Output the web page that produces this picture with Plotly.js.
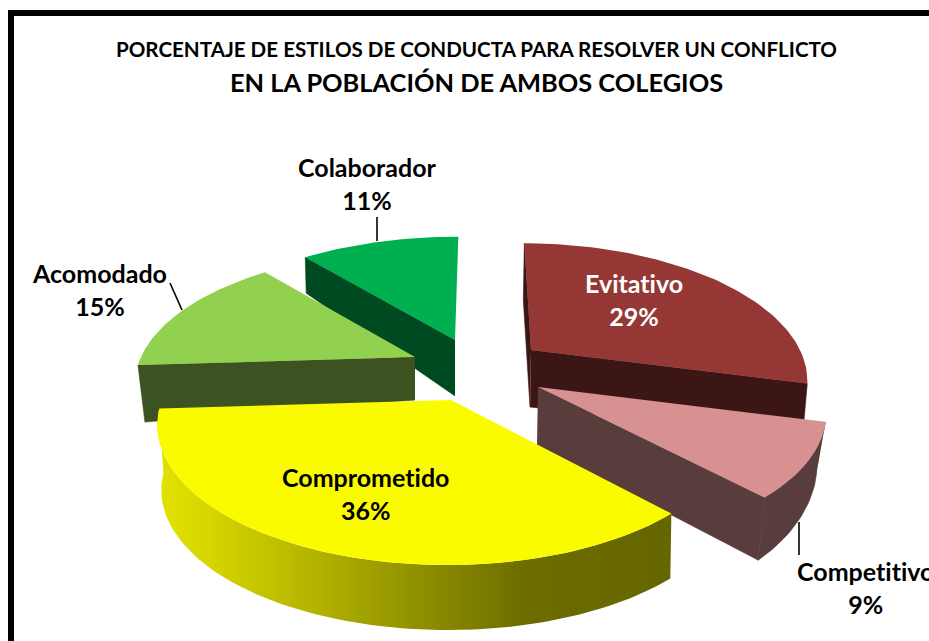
<!DOCTYPE html>
<html><head><meta charset="utf-8">
<script src="https://cdn.plot.ly/plotly-3.0.1.min.js"></script>
<style>html,body{margin:0;padding:0;background:#fff;overflow:hidden}
text{font-variant-ligatures:none;font-feature-settings:"liga" 0}</style>
</head><body><div id="chart" style="width:929px;height:641px"></div>
<script>
// Data
const categories = ["Evitativo","Competitivo","Comprometido","Acomodado","Colaborador"];
const percentages = [29,9,36,15,11];
const titleLine1 = "PORCENTAJE DE ESTILOS DE CONDUCTA PARA RESOLVER UN CONFLICTO";
const titleLine2 = "EN LA POBLACIÓN DE AMBOS COLEGIOS";

// Appearance
const topColors  = ["#953735","#d69190","#fbfb00","#92d050","#00b050"];
const wallColors = ["#3b1615","#593c3c","#666600","#3d5221","#004a22"];
const labelColors = ["#ffffff","#000000","#000000","#000000","#000000"];
const labelX = [634,865,365,99,367];
const labelY = [299.5,587.5,493,289.5,183.5];
// Perspective of each exploded slice on the pixel-sized axes
const views = [
 {ax:531,ay:350,ox:0,rx:269,ry:128,p:.20,k:-8, hA:57,hB:57,hF:53,dA:-1,dC:-1,dX:-4, draw:"start end"},
 {ax:538,ay:387,ox:0,rx:283,ry:135,p:.15,k:-11,hA:58,hB:16,hF:70,dA:-1,dC:0, dX:-9, draw:"end rim"},
 {ax:447,ay:400,ox:4,rx:285,ry:135.5,p:.179,k:0,hA:60,hB:64,hF:65,dA:0, dC:1, dX:-3, draw:"rim"},
 {ax:415,ay:357,ox:0,rx:274,ry:127,p:.20,k:2,  hA:43,hB:57,hF:57,dA:0, dC:0, dX:-7, draw:"start"},
 {ax:455,ay:340,ox:0,rx:276,ry:124,p:.20,k:4,  hA:56,hB:36,hF:36,dA:0, dC:1, dX:0,  draw:"start"}
];
const drawOrder = [0,4,3,1,2];

const total = percentages.reduce((a,b)=>a+b,0);
function topPoint(v,t,r){
  const X=r*Math.sin(t),Y=r*Math.cos(t),s=1/(1+v.p*Y);
  return [v.ax+(r===0?v.ox:0)+(v.rx*X+v.k*Y)*s, v.ay-v.ry*Y*s];
}
function lowPoint(v,t,r){
  const p=topPoint(v,t,r),X=Math.sin(t),Y=Math.cos(t);
  const rimH=v.hF+(Y+1)/2*(v.hB-v.hF), rimD=v.dC+v.dX*X;
  return [p[0]+v.dA*(1-r)+rimD*r, p[1]+v.hA*(1-r)+rimH*r];
}
function poly(pts,color,name,grad,lw){
  const tr={type:"scatter",mode:"lines",x:pts.map(p=>p[0]),y:pts.map(p=>p[1]),
    fill:"toself",fillcolor:color,line:{width:lw||0,color:color},name:name,hoverinfo:"name",showlegend:false};
  if(grad) tr.fillgradient=grad;
  return tr;
}
function arc(a,b){const out=[],n=Math.max(8,Math.round(Math.abs(b-a)*40));
  for(let i=0;i<=n;i++)out.push(a+(b-a)*i/n);return out;}

const bounds=[];let acc=0;
percentages.forEach(p=>{bounds.push([acc/total*2*Math.PI,(acc+p)/total*2*Math.PI]);acc+=p;});

const rimGradient={type:"horizontal",colorscale:[[0,"#e2e200"],[.1,"#d6d600"],[.3,"#b4b400"],[.5,"#919100"],[.72,"#6c6c00"],[1,"#666600"]]};
const traces=[];
drawOrder.forEach(i=>{
  const v=views[i],[a,b]=bounds[i],name=categories[i];
  const cut=t=>[topPoint(v,t,0),topPoint(v,t,1),lowPoint(v,t,1),lowPoint(v,t,0)];
  if(v.draw.includes("start")) traces.push(poly(cut(a),wallColors[i],name,null,0.6));
  if(v.draw.includes("end")) traces.push(poly(cut(b),wallColors[i],name,null,0.6));
  if(v.draw.includes("rim")){
    const ts=arc(a,b);
    traces.push(poly(ts.map(t=>topPoint(v,t,1)).concat(ts.slice().reverse().map(t=>lowPoint(v,t,1))),
      wallColors[i],name,i===2?rimGradient:null,i===2?0:0.6));
  }
  traces.push(poly([topPoint(v,a,0)].concat(arc(a,b).map(t=>topPoint(v,t,1))),topColors[i],name));
});

const annotations=categories.map((c,i)=>({xref:"x",yref:"y",x:labelX[i],y:labelY[i],showarrow:false,
  text:"<b>"+c+"<br>"+percentages[i]+"%</b>",align:"center",xanchor:"center",yanchor:"middle",
  font:{family:"Lato, Carlito, sans-serif",size:25,color:labelColors[i]}}));

const lineStyle={color:"#000",width:1.6};
const layout={
  width:929,height:641,margin:{l:0,r:0,t:0,b:0},paper_bgcolor:"#fff",plot_bgcolor:"#fff",showlegend:false,
  title:{text:'<b><span style="font-size:20.6px">'+titleLine1+'</span><br><span style="font-size:25.4px">'+titleLine2+'</span></b>',
    font:{family:"Lato, sans-serif",size:27,color:"#000"},x:476.5/929,xanchor:"center",y:1-57/641,yanchor:"top"},
  xaxis:{visible:false,range:[0,929],fixedrange:true},
  yaxis:{visible:false,range:[641,0],fixedrange:true},
  annotations:annotations,
  shapes:[
    {type:"rect",xref:"x",yref:"y",x0:11,y0:13,x1:990,y1:700,line:{color:"#000",width:6},layer:"below"},
    {type:"line",xref:"x",yref:"y",x0:377,y0:217,x1:377,y1:241,line:lineStyle},
    {type:"line",xref:"x",yref:"y",x0:170,y0:283,x1:182,y1:310,line:lineStyle},
    {type:"line",xref:"x",yref:"y",x0:799,y0:522,x1:799,y1:555,line:lineStyle}
  ]
};
Plotly.newPlot("chart",traces,layout,{displayModeBar:false,staticPlot:true});
</script></body></html>
